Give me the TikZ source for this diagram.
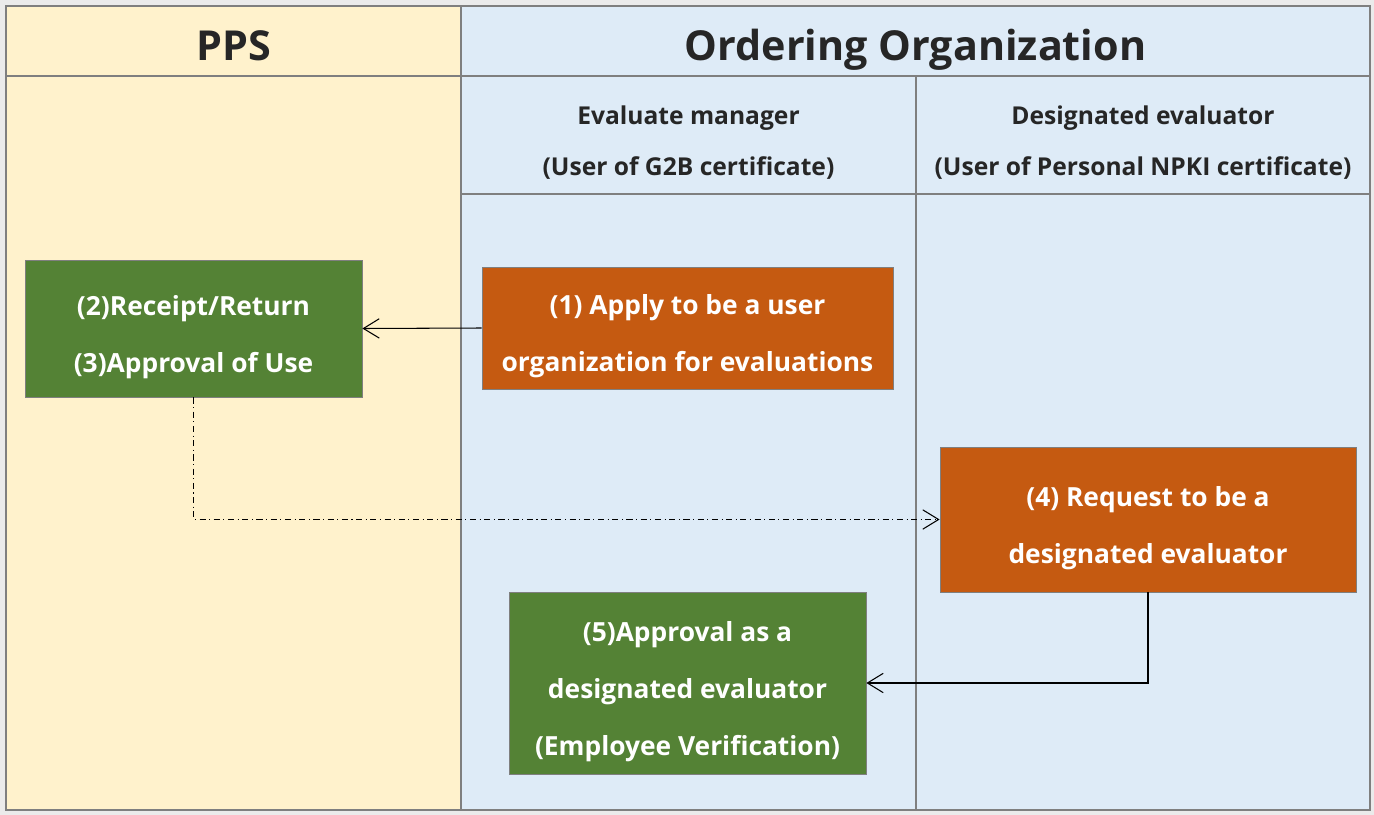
\documentclass[tikz,border=0pt]{standalone}
\usepackage{fontspec}
\setmainfont{Open Sans}
\usetikzlibrary{arrows.meta}

\definecolor{ppsfill}{HTML}{FFF2CC}
\definecolor{orgfill}{HTML}{DEEBF7}
\definecolor{gridgray}{HTML}{7F7F7F}
\definecolor{stepgreen}{HTML}{548235}
\definecolor{steporange}{HTML}{C55A11}
\definecolor{headtext}{HTML}{262626}
\definecolor{outside}{HTML}{EBEBEB}

\newcommand{\stepgap}{\rule{0pt}{21pt}}

\tikzset{
  stepbox/.style={draw=gridgray, line width=0.5pt, text=white, align=center,
    font=\fontsize{15pt}{32.5pt}\selectfont\bfseries},
  greenbox/.style={stepbox, fill=stepgreen},
  orangebox/.style={stepbox, fill=steporange},
  title/.style={text=headtext, anchor=base, font=\fontsize{23.5pt}{28pt}\selectfont\bfseries},
  subtitle/.style={text=headtext, align=center, font=\fontsize{14pt}{29pt}\selectfont\bfseries},
  flow/.style={black, line width=0.6pt, -{Straight Barb[length=9pt,width=11pt]}}
}

\begin{document}
\begin{tikzpicture}[x=0.02cm, y=-0.02cm]
  \fill [outside] (0, 0) rectangle (1374, 815);
  \fill [ppsfill] (6, 6) rectangle (461, 810);
  \fill [orgfill] (461, 6) rectangle (1370, 810);
  \draw [gridgray, line width=1.1pt] (6, 6) rectangle (1370, 810);
  \draw [gridgray, line width=1.1pt] (461, 6) -- (461, 810);
  \draw [gridgray, line width=1.1pt] (6, 76) -- (1370, 76);
  \draw [gridgray, line width=1.1pt] (916, 76) -- (916, 810);
  \draw [gridgray, line width=1.1pt] (461, 194) -- (1370, 194);

  \node [title] (pps) at (233.5, 60) {PPS};
  \node [title] (org) at (915.5, 60) {Ordering Organization};
  \node [subtitle] (manager) at (688.5, 143)
    {Evaluate manager\\(User of G2B certificate)};
  \node [subtitle] (evaluator) at (1143, 143)
    {Designated evaluator\\(User of Personal NPKI certificate)};

  \node [greenbox, minimum width=6.74cm, minimum height=2.74cm] (approve) at (193.5, 328.5)
    {\stepgap(2)Receipt/Return\\(3)Approval of Use};
  \node [orangebox, minimum width=8.22cm, minimum height=2.44cm] (apply) at (687.5, 328)
    {\stepgap(1) Apply to be a user\\organization for evaluations};
  \node [orangebox, minimum width=8.32cm, minimum height=2.9cm] (request) at (1148, 519.5)
    {\stepgap(4) Request to be a\\designated evaluator};
  \node [greenbox, minimum width=7.14cm, minimum height=3.64cm] (designate) at (687.5, 683)
    {\stepgap(5)Approval as a\\designated evaluator\\(Employee Verification)};

  \draw [flow] (apply.west) -- (approve.east);
  \draw [flow, dash pattern=on 3.5pt off 2pt on 0.6pt off 2pt] (approve.south) |- (request.west);
  \draw [flow] (request.south) |- (designate.east);
\end{tikzpicture}
\end{document}
